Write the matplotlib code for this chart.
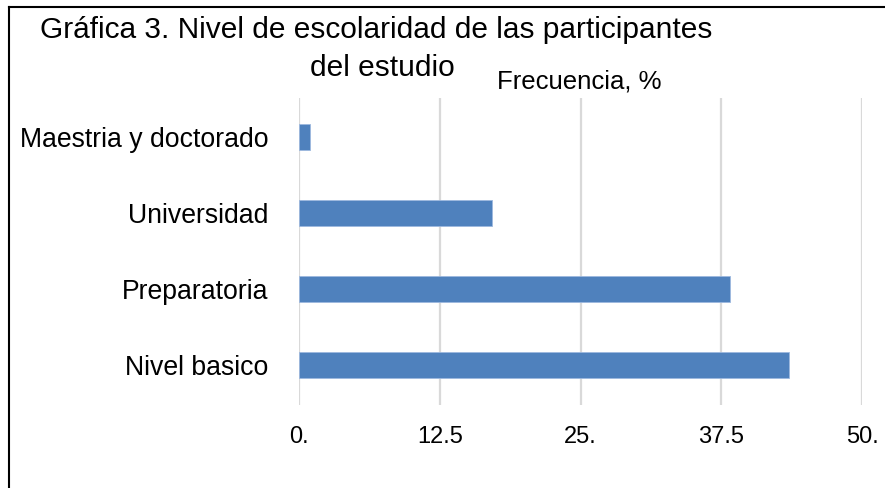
import matplotlib
matplotlib.use("Agg")
import matplotlib.pyplot as plt
from matplotlib.lines import Line2D

plt.rcParams['font.family'] = ['Liberation Sans', 'DejaVu Sans']

categories = ["Nivel basico", "Preparatoria", "Universidad", "Maestria y doctorado"]
values = [43.5, 38.3, 17.1, 1.0]
xticks = [0, 12.5, 25, 37.5, 50]
xtick_labels = ["0.", "12.5", "25.", "37.5", "50."]

fig = plt.figure(figsize=(8.85, 4.88), dpi=100)
ax = fig.add_axes([0.338, 0.170, 0.636, 0.629])

ax.barh(range(len(categories)), values, height=0.34, color="#4F81BD",
        edgecolor="#9DB9DF", linewidth=0.6, zorder=3)
ax.set_xlim(0, 50)
ax.set_ylim(-0.53, 3.51)
ax.set_yticks(range(len(categories)))
ax.set_yticklabels(categories, fontsize=19.2)
ax.set_xticks(xticks)
ax.set_xticklabels(xtick_labels, fontsize=17)
ax.tick_params(axis='x', length=0, pad=15)
ax.tick_params(axis='y', length=0, pad=22)
ax.grid(axis='x', color="#D9D9D9", linewidth=1.6, zorder=0)
for s in ax.spines.values():
    s.set_visible(False)

fig.text(0.425, 0.9385, "Gráfica 3. Nivel de escolaridad de las participantes",
         ha='center', va='center', fontsize=21.5)
fig.text(0.432, 0.861, "del estudio", ha='center', va='center', fontsize=21.5)
fig.text(0.655, 0.832, "Frecuencia, %", ha='center', va='center', fontsize=18.5)

fig.add_artist(Line2D([0.0102, 0.0102], [0.0, 0.986], transform=fig.transFigure,
                      color='black', linewidth=1.5))
fig.add_artist(Line2D([0.0102, 1.0], [0.986, 0.986], transform=fig.transFigure,
                      color='black', linewidth=1.5))

fig.savefig("out.png", dpi=100)
